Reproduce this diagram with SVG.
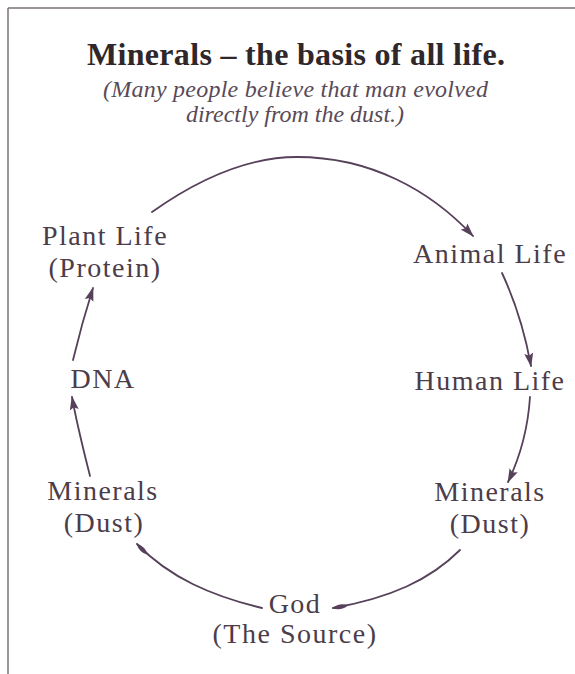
<svg xmlns="http://www.w3.org/2000/svg" width="575" height="674" viewBox="0 0 575 674">
  <style>
    .lbl { font-family: "Liberation Serif", "DejaVu Serif", serif; font-size: 28px; letter-spacing: 1.5px; fill: #4b3d49; text-anchor: middle; }
    .title { font-family: "Liberation Serif", serif; font-size: 32px; font-weight: bold; fill: #2f2729; text-anchor: middle; }
    .sub { font-family: "Liberation Serif", serif; font-size: 24px; font-style: italic; fill: #594a57; text-anchor: middle; }
    .con { fill: none; stroke: #56405a; stroke-width: 1.8; stroke-linecap: round; }
    .frame { stroke: #7a7278; stroke-width: 1.5; fill: none; }
  </style>
  <defs>
    <marker id="tri" markerUnits="userSpaceOnUse" viewBox="0 0 14 10" refX="13" refY="5" markerWidth="14" markerHeight="10" orient="auto">
      <path d="M0,0.5 L14,5 L0,9.5 L2.5,5 z" fill="#56405a"/>
    </marker>
    <marker id="leaf" markerUnits="userSpaceOnUse" viewBox="0 0 16 8" refX="15" refY="4" markerWidth="16" markerHeight="8" orient="auto">
      <path d="M0,4 Q7,-0.5 16,4 Q7,8.5 0,4 z" fill="#56405a"/>
    </marker>
  </defs>
  <rect width="575" height="674" fill="#ffffff"/>
  <g id="frame">
    <line class="frame" x1="8" y1="8" x2="575" y2="8"/>
    <line class="frame" x1="8" y1="8" x2="8" y2="674"/>
  </g>
  <g id="title">
    <text class="title" x="296" y="65" textLength="418" lengthAdjust="spacing">Minerals – the basis of all life.</text>
    <text class="sub" x="295.5" y="97" textLength="385" lengthAdjust="spacing">(Many people believe that man evolved</text>
    <text class="sub" x="295" y="122">directly from the dust.)</text>
  </g>
  <g id="connectors">
    <path class="con" d="M152,212 C200,178 248,157 297,157 C370,157 430,190 473,236" marker-end="url(#tri)"/>
    <path class="con" d="M502,273 C516,303 525,333 531,366" marker-end="url(#tri)"/>
    <path class="con" d="M530,397 C528,428 521,455 508,482" marker-end="url(#tri)"/>
    <path class="con" d="M460,550 C430,580 390,598 333,608" marker-end="url(#leaf)"/>
    <path class="con" d="M262,608 C212,596 170,578 137,544" marker-end="url(#leaf)"/>
    <path class="con" d="M90,476 C84,452 77,425 72,397" marker-end="url(#tri)"/>
    <path class="con" d="M73,360 C79,335 86,310 93,288" marker-end="url(#tri)"/>
  </g>
  <g id="plant-life">
    <text class="lbl" x="105" y="245">Plant Life</text>
    <text class="lbl" x="105" y="277">(Protein)</text>
  </g>
  <g id="animal-life">
    <text class="lbl" x="490" y="263">Animal Life</text>
  </g>
  <g id="human-life">
    <text class="lbl" x="490" y="390">Human Life</text>
  </g>
  <g id="dna">
    <text class="lbl" x="103" y="388">DNA</text>
  </g>
  <g id="minerals-left">
    <text class="lbl" x="103" y="500">Minerals</text>
    <text class="lbl" x="104" y="532">(Dust)</text>
  </g>
  <g id="minerals-right">
    <text class="lbl" x="490" y="501">Minerals</text>
    <text class="lbl" x="490" y="533">(Dust)</text>
  </g>
  <g id="god">
    <text class="lbl" x="295" y="613">God</text>
    <text class="lbl" x="295" y="643">(The Source)</text>
  </g>
</svg>
